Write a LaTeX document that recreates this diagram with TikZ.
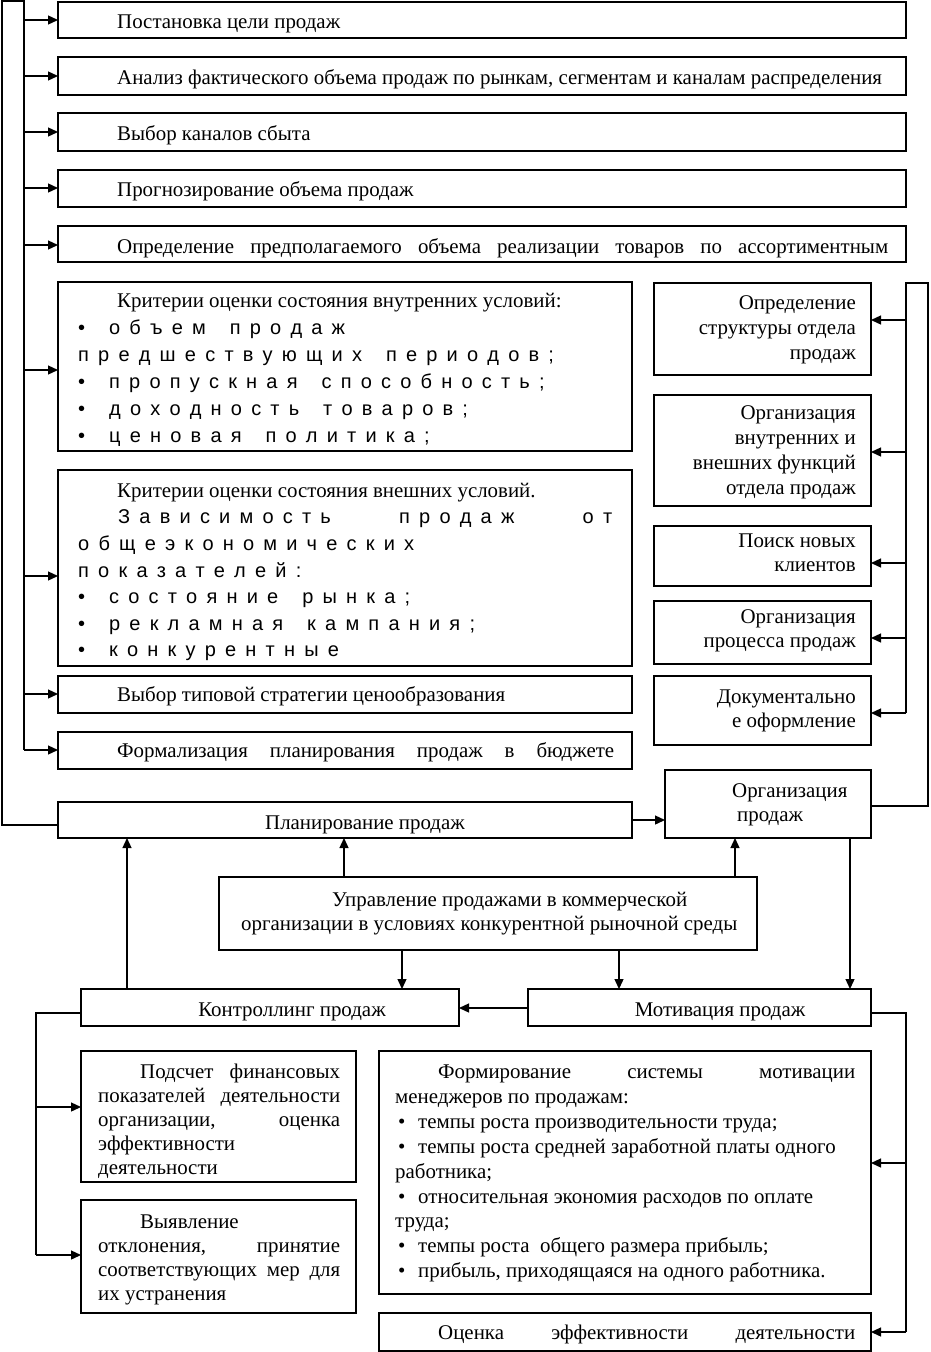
\documentclass[tikz,border=0pt]{standalone}
\usepackage{fontspec}
\setmainfont{Liberation Serif}
\newfontfamily\spfam{Liberation Sans}
\usetikzlibrary{arrows.meta}
\ExplSyntaxOn
\dim_new:N \l_spk_dim
\dim_set:Nn \l_spk_dim {9.2pt}
\seq_new:N \l_spk_seq
\cs_new_protected:Npn \spk_word:n #1
  { \kern -\l_spk_dim \tl_map_inline:nn {#1} { \kern \l_spk_dim ##1 } }
\NewDocumentCommand \spw { m } { \spk_word:n {#1} }
\NewDocumentCommand \spc { m }
  {
    \seq_set_split:Nnn \l_spk_seq { ~ } {#1}
    \seq_map_indexed_inline:Nn \l_spk_seq
      {
        \int_compare:nNnF {##1} = {1}
          { \kern \l_spk_dim \skip_horizontal:n { \fontdimen 2 \font } \kern \l_spk_dim }
        \spk_word:n {##2}
      }
  }
\ExplSyntaxOff
\newcommand{\srf}{\fontsize{20.9}{25}\selectfont}
\newcommand{\spf}{\spfam\fontsize{20}{24}\selectfont}
\newcommand{\bx}[5]{\node[box,anchor=north west,minimum width={#4-#2},minimum height={#5-#3}] (#1) at (#2,#3) {};}
\newcommand{\jl}[2]{\makebox[#1pt][s]{#2}}
\begin{document}
\begin{tikzpicture}[x=1pt,y=-1pt,
  box/.style={draw,line width=1.7pt,inner sep=0pt,outer sep=0pt},
  st/.style={inner sep=0pt,anchor=base west,font=\srf},
  sr/.style={inner sep=0pt,anchor=base east,font=\srf},
  sc/.style={inner sep=0pt,anchor=base,font=\srf},
  sp/.style={inner sep=0pt,anchor=base west,font=\spf},
  ln/.style={line width=1.5pt},
  arr/.style={line width=1.3pt,-{Triangle[length=10pt,width=9pt]}}]
\useasboundingbox (0,0) rectangle (930,1352);
\fill[white] (0,0) rectangle (930,1352);
% top boxes
\bx{b1}{58}{2}{906}{38}
\bx{b2}{58}{57}{906}{95}
\bx{b3}{58}{113}{906}{151}
\bx{b4}{58}{170}{906}{207}
\bx{b5}{58}{226}{906}{262}
\bx{b6}{58}{282}{632}{451}
\bx{b7}{58}{470}{632}{666}
\bx{b8}{58}{676}{632}{713}
\bx{b9}{58}{732}{632}{769}
\bx{plan}{58}{802}{632}{838}
\bx{org}{665}{770}{871}{838}
% right column
\bx{r1}{654}{283}{871}{375}
\bx{r2}{654}{395}{871}{506}
\bx{r3}{654}{526}{871}{586}
\bx{r4}{654}{601}{871}{664}
\bx{r5}{654}{676}{871}{745}
% center and bottom
\bx{cen}{219}{877}{757}{950}
\bx{ctl}{81}{989}{459}{1026}
\bx{mot}{528}{989}{871}{1026}
\bx{pod}{81}{1051}{356}{1182}
\bx{vyy}{81}{1200}{356}{1313}
\bx{frm}{379}{1051}{871}{1294}
\bx{oce}{379}{1313}{871}{1351}

% texts top
\node[st] (t1) at (117,28) {Постановка цели продаж};
\node[st] (t2) at (117,84) {Анализ фактического объема продаж по рынкам, сегментам и каналам распределения};
\node[st] (t3) at (117,140) {Выбор каналов сбыта};
\node[st] (t4) at (117,196) {Прогнозирование объема продаж};
\node[st] (t5) at (117,253) {\jl{771}{Определение предполагаемого объема реализации товаров по ассортиментным}};
% box 6
\node[st] (t6a) at (117,307) {Критерии оценки состояния внутренних условий:};
\node[sp] (t6b) at (78,334) {\spc{• объем продаж}};
\node[sp] (t6c) at (78,361) {\spc{предшествующих периодов;}};
\node[sp] (t6d) at (78,388) {\spc{• пропускная способность;}};
\node[sp] (t6e) at (78,415) {\spc{• доходность товаров;}};
\node[sp] (t6f) at (78,442) {\spc{• ценовая политика;}};
% box 7
\node[st] (t7a) at (117,497) {Критерии оценки состояния внешних условий.};
\node[sp] (t7b) at (118,523) {\makebox[494pt][l]{\spw{Зависимость}\hfill\spw{продаж}\hfill\spw{от}}};
\node[sp] (t7c) at (78,550) {\spc{общеэкономических}};
\node[sp] (t7d) at (78,577) {\spc{показателей:}};
\node[sp] (t7e) at (78,603) {\spc{• состояние рынка;}};
\node[sp] (t7f) at (78,630) {\spc{• рекламная кампания;}};
\node[sp] (t7g) at (78,656) {\spc{• конкурентные}};
\node[st] (t8) at (117,701) {Выбор типовой стратегии ценообразования};
\node[st] (t9) at (117,757) {\jl{497}{Формализация планирования продаж в бюджете}};
\node[sc] (tp) at (365,829) {Планирование продаж};
\node[st] (to1) at (732,797) {Организация};
\node[st] (to2) at (737,821) {продаж};
% right column texts
\node[sr] (r1a) at (856,309) {Определение};
\node[sr] (r1b) at (856,334) {структуры отдела};
\node[sr] (r1c) at (856,359) {продаж};
\node[sr] (r2a) at (856,419) {Организация};
\node[sr] (r2b) at (856,444) {внутренних и};
\node[sr] (r2c) at (856,469) {внешних функций};
\node[sr] (r2d) at (856,494) {отдела продаж};
\node[sr] (r3a) at (856,547) {Поиск новых};
\node[sr] (r3b) at (856,571) {клиентов};
\node[sr] (r4a) at (856,623) {Организация};
\node[sr] (r4b) at (856,647) {процесса продаж};
\node[sr] (r5a) at (856,703) {Документально};
\node[sr] (r5b) at (856,727) {е оформление};
% center
\node[st] (c1) at (332,906) {Управление продажами в коммерческой};
\node[st] (c2) at (241,930) {организации в условиях конкурентной рыночной среды};
\node[sc] (ct) at (292,1016) {Контроллинг продаж};
\node[sc] (mt) at (720,1016) {Мотивация продаж};
% pod
\node[st] (p1) at (140,1078) {\jl{200}{Подсчет финансовых}};
\node[st] (p2) at (98,1102) {\jl{242}{показателей деятельности}};
\node[st] (p3) at (98,1126) {\jl{242}{организации, оценка}};
\node[st] (p4) at (98,1150) {эффективности};
\node[st] (p5) at (98,1174) {деятельности};
\node[st] (v1) at (140,1228) {Выявление};
\node[st] (v2) at (98,1252) {\jl{242}{отклонения, принятие}};
\node[st] (v3) at (98,1276) {\jl{242}{соответствующих мер для}};
\node[st] (v4) at (98,1300) {их устранения};
% frm
\node[st] (f1) at (438,1078) {\jl{417}{Формирование системы мотивации}};
\node[st] (f2) at (395,1103) {менеджеров по продажам:};
\node[st] (f3) at (398,1128) {\makebox[20pt][l]{•}темпы роста производительности труда;};
\node[st] (f4) at (398,1153) {\makebox[20pt][l]{•}темпы роста средней заработной платы одного};
\node[st] (f5) at (395,1178) {работника;};
\node[st] (f6) at (398,1203) {\makebox[20pt][l]{•}относительная экономия расходов по оплате};
\node[st] (f7) at (395,1227) {труда;};
\node[st] (f8) at (398,1252) {\makebox[20pt][l]{•}темпы роста \ общего размера прибыль;};
\node[st] (f9) at (398,1277) {\makebox[20pt][l]{•}прибыль, приходящаяся на одного работника.};
\node[st] (o1) at (438,1339) {\jl{417}{Оценка эффективности деятельности}};

% left trunk
\coordinate (lo) at (2,825);
\coordinate (ltop) at (24,1);
\coordinate (a1) at (24,20);
\coordinate (a2) at (24,76);
\coordinate (a3) at (24,132);
\coordinate (a4) at (24,188);
\coordinate (a5) at (24,245);
\coordinate (a6) at (24,370);
\coordinate (a7) at (24,576);
\coordinate (a8) at (24,694);
\coordinate (a9) at (24,750);
\draw[ln] (lo -| plan.west) -- (lo) -- (2,1) -- (ltop) -- (a9);
\foreach \a/\b in {a1/b1,a2/b2,a3/b3,a4/b4,a5/b5,a6/b6,a7/b7,a8/b8,a9/b9}
  \draw[arr] (\a) -- (\a -| \b.west);
% right trunk
\coordinate (ro) at (928,806);
\coordinate (rtop) at (906,283);
\coordinate (q1) at (906,320);
\coordinate (q2) at (906,452);
\coordinate (q3) at (906,563);
\coordinate (q4) at (906,638);
\coordinate (q5) at (906,713);
\draw[ln] (ro -| org.east) -- (ro) -- (928,283) -- (rtop) -- (q5);
\foreach \a/\b in {q1/r1,q2/r2,q3/r3,q4/r4,q5/r5}
  \draw[arr] (\a) -- (\a -| \b.east);
% plan -> org
\coordinate (po) at (632,820);
\draw[arr] (po -| plan.east) -- (po -| org.west);
% center arrows
\coordinate (u1) at (344,877);
\coordinate (u2) at (735,877);
\coordinate (d1) at (402,950);
\coordinate (d2) at (619,950);
\draw[arr] (u1 |- cen.north) -- (u1 |- plan.south);
\draw[arr] (u2 |- cen.north) -- (u2 |- org.south);
\draw[arr] (d1 |- cen.south) -- (d1 |- ctl.north);
\draw[arr] (d2 |- cen.south) -- (d2 |- mot.north);
\coordinate (k1) at (127,990);
\draw[arr] (k1 |- ctl.north) -- (k1 |- plan.south);
\coordinate (k2) at (850,838);
\draw[arr] (k2 |- org.south) -- (k2 |- mot.north);
\coordinate (mc) at (528,1008);
\draw[arr] (mc -| mot.west) -- (mc -| ctl.east);
% bottom left
\coordinate (bl) at (36,1013);
\coordinate (bl1) at (36,1107);
\coordinate (bl2) at (36,1255);
\draw[ln] (bl -| ctl.west) -- (bl) -- (bl2);
\draw[arr] (bl1) -- (bl1 -| pod.west);
\draw[arr] (bl2) -- (bl2 -| vyy.west);
% bottom right
\coordinate (br) at (906,1013);
\coordinate (br1) at (906,1163);
\coordinate (br2) at (906,1332);
\draw[ln] (br -| mot.east) -- (br) -- (br2);
\draw[arr] (br1) -- (br1 -| frm.east);
\draw[arr] (br2) -- (br2 -| oce.east);
\end{tikzpicture}
\end{document}
